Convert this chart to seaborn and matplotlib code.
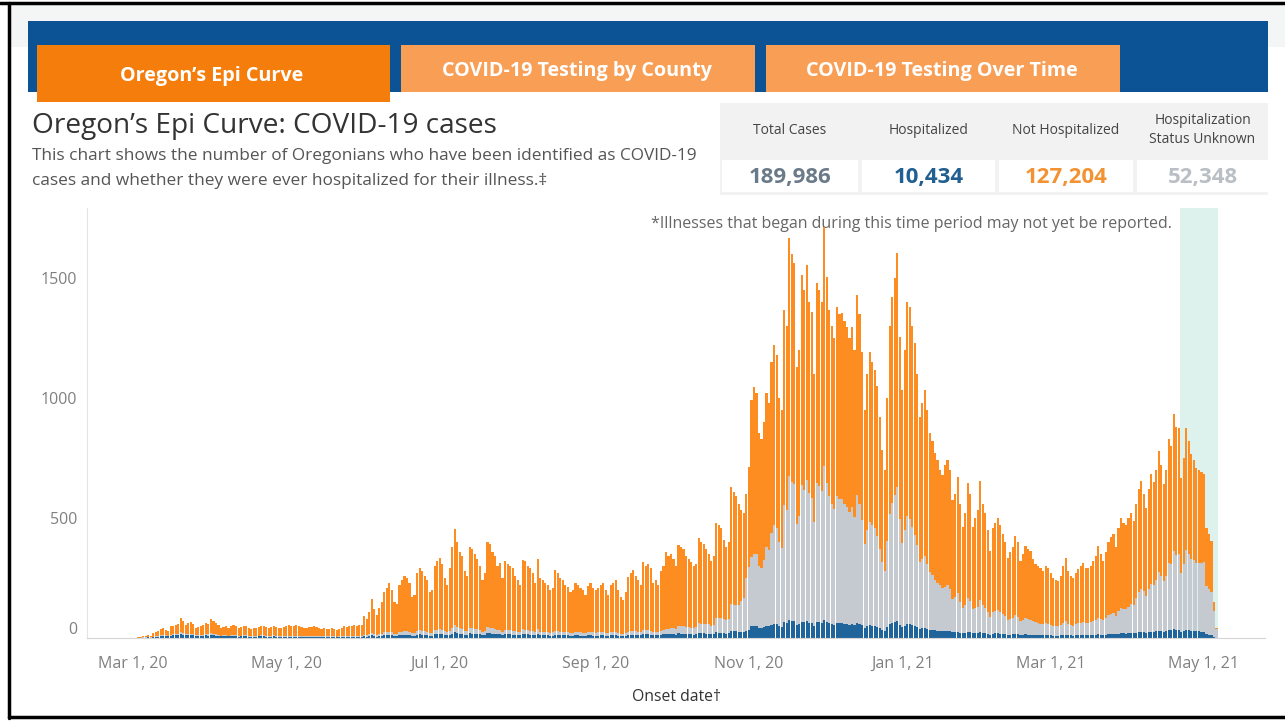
import numpy as np
import pandas as pd
import matplotlib
matplotlib.use("Agg")
import matplotlib.pyplot as plt
from matplotlib.patches import Rectangle
import seaborn as sns

sns.set_style("white")
plt.rcParams['font.family'] = ['Open Sans', 'DejaVu Sans']

W, H = 1285, 721

# daily cases by onset date, Mar 3, 2020 -> May 6, 2021, one row per month
start_date = "2020-03-03"
total = [
    4, 6, 8, 10, 12, 9, 20, 25, 30, 37, 40, 35, 30, 48, 50, 55, 60, 83, 70, 55, 63, 65, 60, 42, 45, 50, 55, 63, 60,
    79, 70, 62, 55, 42, 45, 48, 42, 50, 55, 48, 40, 45, 50, 48, 42, 38, 42, 40, 45, 48, 50, 46, 42, 44, 50, 46, 40, 42, 45,
    48, 55, 50, 52, 55, 50, 44, 40, 42, 46, 45, 48, 46, 42, 38, 40, 36, 37, 40, 38, 35, 37, 40, 50, 45, 48, 52, 55, 50, 53, 55,
    92, 80, 110, 163, 120, 95, 125, 150, 190, 210, 230, 200, 150, 140, 220, 240, 260, 250, 230, 170, 180, 270, 290, 280, 260, 240, 190, 200, 300, 320,
    333, 310, 250, 220, 290, 380, 455, 400, 360, 340, 280, 260, 380, 370, 350, 330, 300, 240, 270, 400, 390, 360, 340, 300, 312, 250, 320, 310, 300, 290, 260,
    240, 220, 325, 320, 300, 290, 270, 230, 330, 250, 240, 230, 220, 200, 210, 283, 270, 250, 240, 220, 213, 190, 200, 230, 220, 210, 200, 180, 215, 230, 210,
    200, 210, 220, 230, 200, 180, 220, 230, 240, 200, 170, 160, 190, 255, 270, 283, 260, 240, 220, 317, 300, 310, 290, 230, 240, 220, 280, 300, 358, 340,
    350, 330, 300, 388, 380, 370, 340, 330, 317, 300, 310, 417, 400, 390, 370, 350, 320, 340, 480, 470, 460, 408, 380, 400, 630, 610, 590, 560, 533, 520, 600,
    713, 990, 1046, 1020, 855, 830, 900, 1020, 980, 1150, 1220, 1180, 1000, 950, 1368, 1300, 1668, 1600, 1563, 1130, 1200, 1513, 1450, 1555, 1400, 1360, 1100, 1480, 1450, 1400,
    1713, 1505, 1368, 1300, 1250, 1380, 1350, 1355, 1320, 1297, 1250, 1297, 1200, 1430, 1350, 1190, 950, 1100, 1190, 1150, 1117, 1050, 922, 783, 700, 1000, 1300, 1422, 1500, 1605, 1255,
    1034, 1200, 1401, 1380, 1300, 1230, 1100, 922, 980, 1034, 950, 855, 820, 771, 740, 700, 680, 720, 742, 700, 575, 600, 671, 560, 463, 520, 646, 600, 463, 500, 533,
    655, 558, 520, 450, 363, 459, 480, 500, 470, 433, 400, 334, 360, 380, 425, 400, 321, 350, 384, 370, 363, 330, 310, 300, 292, 280, 300, 292,
    270, 250, 240, 238, 260, 300, 334, 279, 260, 250, 270, 288, 300, 313, 290, 292, 300, 321, 340, 384, 350, 321, 360, 400, 420, 433, 380, 460, 500, 480, 470,
    500, 520, 488, 560, 620, 655, 600, 542, 620, 684, 650, 700, 780, 720, 642, 700, 830, 800, 934, 880, 876, 667, 750, 876, 820, 767, 740, 709, 700, 690,
    684, 459, 433, 405, 150, 42,
]
hospitalized = [
    1, 1, 2, 2, 3, 2, 4, 5, 6, 8, 9, 8, 7, 10, 11, 12, 13, 16, 14, 12, 13, 13, 12, 9, 9, 10, 10, 11, 10,
    13, 12, 10, 9, 7, 8, 8, 7, 8, 9, 8, 6, 7, 8, 7, 6, 5, 6, 6, 7, 7, 7, 6, 6, 6, 7, 6, 5, 6, 6,
    6, 6, 5, 6, 6, 5, 5, 4, 4, 5, 5, 5, 5, 4, 4, 4, 4, 4, 4, 4, 3, 4, 4, 5, 4, 5, 5, 5, 5, 5, 5,
    7, 6, 8, 11, 8, 6, 8, 9, 11, 12, 13, 11, 8, 8, 12, 13, 14, 13, 12, 9, 9, 14, 15, 14, 13, 12, 10, 10, 15, 16,
    17, 16, 13, 11, 14, 18, 24, 20, 18, 17, 14, 13, 19, 18, 17, 16, 15, 12, 13, 20, 19, 18, 17, 15, 15, 12, 16, 15, 15, 14, 13,
    12, 11, 16, 16, 15, 14, 13, 11, 16, 12, 12, 11, 11, 10, 10, 14, 13, 12, 12, 11, 11, 9, 10, 11, 11, 10, 10, 9, 11, 11, 10,
    10, 10, 11, 11, 10, 9, 11, 11, 12, 10, 8, 8, 9, 12, 13, 14, 13, 12, 11, 15, 15, 15, 14, 11, 12, 11, 14, 15, 17, 16,
    17, 16, 14, 19, 18, 18, 16, 16, 15, 14, 15, 20, 19, 19, 18, 17, 15, 16, 23, 22, 22, 20, 18, 19, 30, 29, 28, 27, 25, 25, 28,
    34, 48, 52, 50, 42, 40, 45, 50, 48, 56, 60, 57, 50, 47, 65, 62, 75, 72, 70, 54, 57, 68, 66, 70, 64, 62, 52, 66, 65, 63,
    75, 68, 62, 59, 56, 62, 61, 61, 59, 58, 56, 58, 54, 64, 60, 53, 43, 49, 53, 51, 50, 47, 41, 35, 31, 45, 58, 63, 66, 70, 55,
    44, 50, 58, 57, 54, 51, 46, 38, 40, 43, 39, 35, 34, 32, 30, 29, 28, 29, 30, 28, 23, 24, 27, 22, 19, 21, 25, 24, 19, 20, 21,
    25, 22, 20, 18, 14, 18, 19, 19, 18, 17, 15, 13, 14, 15, 16, 15, 12, 13, 15, 14, 14, 13, 12, 12, 11, 11, 12, 11,
    11, 10, 10, 10, 11, 12, 13, 11, 11, 10, 11, 12, 12, 13, 12, 12, 12, 13, 14, 15, 14, 13, 14, 16, 17, 17, 15, 18, 19, 19, 18,
    20, 21, 19, 22, 25, 26, 24, 22, 25, 27, 26, 28, 31, 29, 26, 28, 33, 32, 37, 35, 35, 27, 30, 35, 33, 31, 30, 28, 28, 27,
    25, 16, 14, 12, 4, 1,
]
unknown = [
    0, 0, 1, 1, 1, 1, 2, 2, 3, 3, 4, 3, 3, 4, 4, 5, 5, 7, 6, 5, 5, 5, 5, 3, 4, 4, 4, 5, 5,
    6, 5, 5, 4, 3, 3, 4, 3, 4, 4, 4, 3, 3, 4, 4, 3, 3, 3, 3, 3, 4, 4, 3, 3, 3, 4, 3, 3, 3, 3,
    4, 4, 4, 4, 4, 4, 3, 3, 3, 3, 3, 4, 3, 3, 3, 3, 3, 3, 3, 3, 3, 3, 3, 4, 3, 4, 4, 4, 4, 4, 4,
    6, 5, 7, 10, 7, 6, 8, 9, 12, 13, 14, 12, 9, 9, 13, 14, 16, 15, 14, 10, 11, 16, 17, 17, 16, 14, 11, 12, 18, 19,
    20, 19, 15, 13, 17, 23, 30, 24, 22, 20, 17, 16, 23, 22, 21, 20, 18, 14, 16, 24, 23, 22, 20, 18, 19, 15, 19, 19, 18, 17, 16,
    14, 13, 20, 19, 18, 17, 16, 14, 20, 15, 14, 14, 13, 12, 13, 17, 16, 15, 14, 13, 13, 11, 12, 14, 13, 13, 12, 11, 13, 14, 13,
    12, 13, 13, 14, 12, 11, 13, 14, 14, 12, 10, 10, 11, 15, 16, 17, 16, 14, 13, 19, 18, 19, 17, 14, 14, 13, 17, 18, 22, 21,
    25, 24, 22, 30, 30, 30, 28, 28, 28, 27, 29, 42, 41, 41, 40, 40, 37, 40, 62, 62, 63, 58, 55, 60, 110, 110, 110, 110, 130, 140, 220,
    260, 290, 300, 300, 260, 250, 280, 330, 320, 380, 410, 400, 350, 330, 490, 470, 600, 580, 570, 420, 450, 570, 550, 590, 540, 520, 430, 580, 570, 550,
    640, 580, 530, 500, 480, 530, 520, 520, 500, 490, 470, 490, 450, 530, 500, 440, 350, 400, 430, 420, 410, 380, 330, 280, 250, 360, 460, 500, 530, 560, 440,
    350, 400, 450, 440, 410, 380, 340, 280, 290, 300, 270, 240, 230, 210, 200, 190, 180, 185, 190, 175, 140, 145, 160, 130, 105, 115, 140, 130, 100, 105, 110,
    135, 115, 105, 90, 72, 90, 94, 96, 90, 82, 75, 62, 66, 70, 78, 72, 58, 62, 68, 65, 63, 57, 53, 51, 49, 46, 50, 48,
    45, 42, 40, 40, 44, 50, 56, 47, 44, 42, 46, 49, 52, 55, 50, 52, 54, 58, 62, 70, 65, 60, 68, 78, 84, 88, 78, 96, 105, 102, 102,
    110, 120, 120, 145, 165, 180, 170, 155, 180, 200, 195, 215, 245, 230, 210, 230, 280, 275, 325, 310, 315, 245, 280, 330, 315, 300, 295, 285, 285, 285,
    290, 200, 190, 180, 110, 35,
]

status_order = ["Not Hospitalized", "Hospitalization Status Unknown", "Hospitalized"]
status_colors = ["#fd8d21", "#c4cad0", "#1f659b"]

tick_dates = ["2020-03-01", "2020-05-01", "2020-07-01", "2020-09-01",
              "2020-11-01", "2021-01-01", "2021-03-01", "2021-05-01"]
tick_labels = ["Mar 1, 20", "May 1, 20", "Jul 1, 20", "Sep 1, 20",
               "Nov 1, 20", "Jan 1, 21", "Mar 1, 21", "May 1, 21"]
y_ticks = [0, 500, 1000, 1500]
pending_start, pending_end = "2021-04-21 12:00", "2021-05-06 14:00"

tabs = ["Oregon’s Epi Curve", "COVID-19 Testing by County", "COVID-19 Testing Over Time"]
kpi_labels = ["Total Cases", "Hospitalized", "Not Hospitalized", "Hospitalization\nStatus Unknown"]
kpi_values = ["189,986", "10,434", "127,204", "52,348"]
kpi_colors = ["#6b7a89", "#1f5f91", "#f39232", "#b9bfc5"]

# --- data frame for seaborn
n = min(len(total), len(hospitalized), len(unknown))
tot = np.array(total[:n])
hos = np.array(hospitalized[:n])
unk = np.array(unknown[:n])
df = pd.DataFrame({
    "date": pd.date_range(start_date, periods=n, freq="D"),
    "Hospitalized": hos,
    "Hospitalization Status Unknown": unk,
    "Not Hospitalized": tot - hos - unk,
})
long = df.melt(id_vars="date", var_name="status", value_name="cases")


def px_date(px):
    # axis position (pixels) -> date, Mar 1 2020 sits at x=133, 2.514 px per day
    return pd.Timestamp("2020-03-01") + pd.Timedelta(days=(px - 133) / 2.514)


fig = plt.figure(figsize=(W / 100, H / 100), dpi=100)
fig.patch.set_facecolor("white")

# background layer in pixel coordinates
bg = fig.add_axes([0, 0, 1, 1])
bg.set_xlim(0, W)
bg.set_ylim(H, 0)
bg.axis("off")

bg.add_patch(Rectangle((10, 5), W - 10, 42, color="#f4f5f5", lw=0))
bg.add_patch(Rectangle((28, 21), 1240, 71, color="#0b5394", lw=0))
bg.add_patch(Rectangle((37, 45), 353, 57, color="#f57d0c", lw=0))
bg.add_patch(Rectangle((401, 45), 354, 47, color="#f99e55", lw=0))
bg.add_patch(Rectangle((766, 45), 354, 47, color="#f99e55", lw=0))
for cx, cy, label in zip([212, 577, 942], [76, 71, 71], tabs):
    bg.text(cx, cy, label, color="white", fontsize=14.2, fontweight="bold",
            ha="center", va="center")

bg.plot([0, W], [3, 3], color="black", lw=2.5)
bg.plot([9, 9], [3, 718], color="black", lw=2.5)
bg.plot([9, W], [717, 717], color="black", lw=2.5)

bg.text(32, 126, "Oregon’s Epi Curve: COVID-19 cases", fontsize=20.2, color="#333333",
        ha="left", va="center")
bg.text(32, 156, "This chart shows the number of Oregonians who have been identified as COVID-19",
        fontsize=12.45, color="#555555", ha="left", va="center")
bg.text(32, 181, "cases and whether they were ever hospitalized for their illness.‡",
        fontsize=12.45, color="#555555", ha="left", va="center")

# KPI table
bg.add_patch(Rectangle((720, 103), 548, 92, color="#f2f2f2", lw=0))
cell_x = [722, 862, 999, 1137]
cell_w = [136, 133, 134, 131]
for i in range(4):
    bg.add_patch(Rectangle((cell_x[i], 160), cell_w[i], 32, color="white", lw=0))
    cx = cell_x[i] + cell_w[i] / 2
    bg.text(cx, 130, kpi_labels[i], fontsize=10, color="#444444", ha="center",
            va="center", linespacing=1.35)
    bg.text(cx, 177, kpi_values[i], fontsize=16, fontweight="bold", color=kpi_colors[i],
            ha="center", va="center")

bg.text(1172, 224, "*Illnesses that began during this time period may not yet be reported.",
        fontsize=11.5, color="#666666", ha="right", va="center", zorder=5)

# --- chart
ax = fig.add_axes([87 / W, 1 - 638 / H, (1265 - 87) / W, (638 - 208) / H])
ax.set_facecolor("none")
sns.histplot(data=long, x="date", weights="cases", hue="status", hue_order=status_order,
             palette=status_colors, multiple="stack", discrete=True, shrink=0.85,
             linewidth=0, alpha=1, legend=False, ax=ax)
ax.axvspan(pd.Timestamp(pending_start), pd.Timestamp(pending_end), color="#ddf2ec",
           lw=0, zorder=0)

ax.set_xlim(px_date(87), px_date(1265))
ax.set_ylim(0, 1792)
ax.set_yticks(y_ticks)
ax.set_yticklabels([str(v) for v in y_ticks])
ax.set_xticks(pd.to_datetime(tick_dates))
ax.set_xticklabels(tick_labels)
ax.set_xlabel("Onset date†", fontsize=11.3, color="#333333", labelpad=12)
ax.set_ylabel("")

for s in ["top", "right"]:
    ax.spines[s].set_visible(False)
ax.spines["left"].set_color("#e3e3e3")
ax.spines["bottom"].set_color("#d6d6d6")
ax.tick_params(axis="x", colors="#cccccc", labelcolor="#808080", labelsize=11.5,
               length=5, width=0.8, pad=8)
ax.tick_params(axis="y", colors="#cccccc", labelcolor="#808080", labelsize=11.5,
               length=4, width=0.8, pad=3)
for lbl in ax.get_yticklabels():
    if lbl.get_text() == "0":
        lbl.set_va("bottom")

fig.savefig("out.png", dpi=100, facecolor="white")
